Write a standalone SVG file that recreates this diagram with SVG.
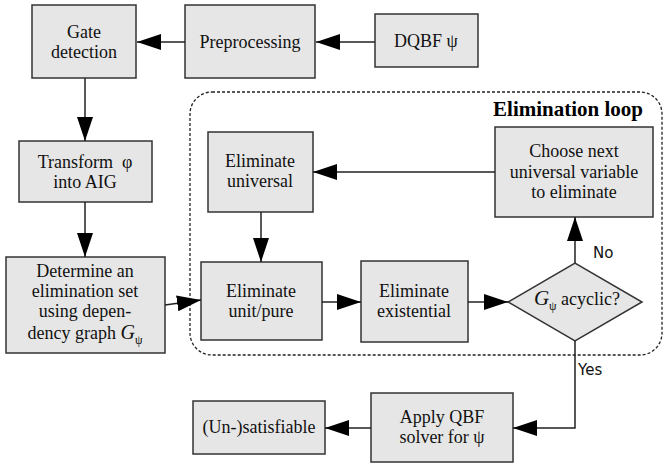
<svg xmlns="http://www.w3.org/2000/svg" width="663" height="464" viewBox="0 0 663 464">
<defs>
<marker id="ah" markerWidth="24" markerHeight="16" refX="24" refY="8" orient="auto" markerUnits="userSpaceOnUse">
<path d="M0,0 L24,8 L0,16 Z" fill="#000"/>
</marker>
<style>
.box{fill:#e6e6e6;stroke:#333;stroke-width:1.5}
.t{font-family:"Liberation Serif","Times New Roman",serif;font-size:18px;fill:#111;text-anchor:middle}
.s{font-family:"DejaVu Sans",Verdana,sans-serif;font-size:15px;fill:#111}
.c{stroke:#222;stroke-width:1.5;fill:none}
.i{font-style:italic}
</style>
</defs>
<rect x="0" y="0" width="663" height="464" fill="#fff"/>
<rect x="190" y="92" width="472" height="263" rx="22" ry="22" fill="none" stroke="#222" stroke-width="1.3" stroke-dasharray="3,2"/>
<text x="643" y="116" font-family="Liberation Serif,serif" font-size="21" font-weight="bold" text-anchor="end" fill="#000">Elimination loop</text>
<g id="gate"><rect class="box" x="32" y="5" width="104" height="73"/><text class="t" x="84" y="38">Gate</text><text class="t" x="84" y="58">detection</text></g>
<g id="preproc"><rect class="box" x="185" y="5" width="130" height="73"/><text class="t" x="250" y="48">Preprocessing</text></g>
<g id="dqbf"><rect class="box" x="375" y="14" width="103" height="53"/><text class="t" x="426" y="47">DQBF ψ</text></g>
<g id="transform"><rect class="box" x="19" y="141" width="133" height="61"/><text class="t" x="85" y="168" xml:space="preserve">Transform  φ</text><text class="t" x="85" y="188">into AIG</text></g>
<g id="determine"><rect class="box" x="6" y="257" width="159" height="96"/><text class="t" x="85" y="277">Determine an</text><text class="t" x="85" y="297">elimination set</text><text class="t" x="85" y="317">using depen-</text><text class="t" x="85" y="339">dency graph <tspan class="i" font-size="20">G</tspan><tspan font-size="12" dy="5">ψ</tspan></text></g>
<g id="elimuniv"><rect class="box" x="208" y="132" width="105" height="80"/><text class="t" x="260" y="167">Eliminate</text><text class="t" x="260" y="187">universal</text></g>
<g id="unitpure"><rect class="box" x="201" y="262" width="121" height="78"/><text class="t" x="261" y="297">Eliminate</text><text class="t" x="261" y="317">unit/pure</text></g>
<g id="existential"><rect class="box" x="361" y="261" width="107" height="81"/><text class="t" x="414" y="297">Eliminate</text><text class="t" x="414" y="317">existential</text></g>
<g id="choose"><rect class="box" x="495" y="127" width="158" height="90"/><text class="t" x="574" y="157">Choose next</text><text class="t" x="574" y="178">universal variable</text><text class="t" x="574" y="198">to eliminate</text></g>
<g id="acyclic"><polygon class="box" points="508,302 575,263 642,302 575,341"/><text class="t" x="577" y="305"><tspan class="i" font-size="21">G</tspan><tspan font-size="12" dy="5">ψ</tspan><tspan dy="-5"> acyclic?</tspan></text></g>
<g id="apply"><rect class="box" x="371" y="393" width="142" height="69"/><text class="t" x="442" y="423">Apply QBF</text><text class="t" x="442" y="443">solver for ψ</text></g>
<g id="unsat"><rect class="box" x="193" y="401" width="132" height="53"/><text class="t" x="259" y="433">(Un-)satisfiable</text></g>
<g id="connectors">
<line class="c" x1="375" y1="42" x2="316" y2="42" marker-end="url(#ah)"/>
<line class="c" x1="185" y1="42" x2="137" y2="42" marker-end="url(#ah)"/>
<line class="c" x1="85" y1="78" x2="85" y2="141" marker-end="url(#ah)"/>
<line class="c" x1="85" y1="202" x2="85" y2="257" marker-end="url(#ah)"/>
<line class="c" x1="165" y1="305" x2="201" y2="300" marker-end="url(#ah)"/>
<line class="c" x1="261" y1="212" x2="261" y2="262" marker-end="url(#ah)"/>
<line class="c" x1="322" y1="302" x2="361" y2="302" marker-end="url(#ah)"/>
<line class="c" x1="468" y1="302" x2="508" y2="302" marker-end="url(#ah)"/>
<line class="c" x1="575" y1="263" x2="575" y2="217" marker-end="url(#ah)"/>
<line class="c" x1="495" y1="172" x2="313" y2="172" marker-end="url(#ah)"/>
<polyline class="c" points="575,341 575,428 513,428" marker-end="url(#ah)"/>
<line class="c" x1="371" y1="428" x2="325" y2="428" marker-end="url(#ah)"/>
<text class="s" x="593" y="258">No</text>
<text class="s" x="578" y="375">Yes</text>
</g>
</svg>
